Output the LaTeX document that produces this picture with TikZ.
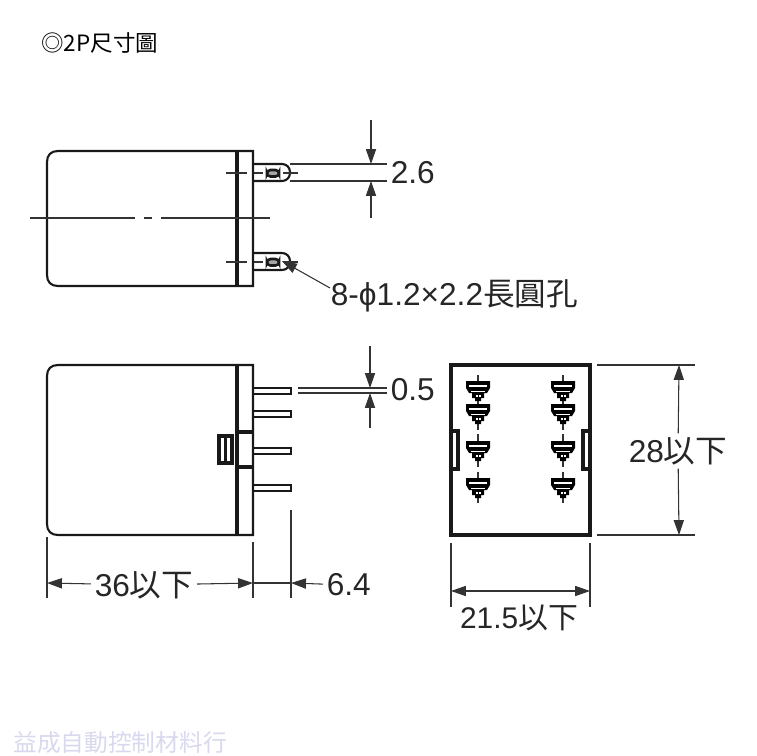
\documentclass[tikz,border=0pt]{standalone}
\usepackage{fontspec}
\setmainfont{Liberation Sans}
\newfontfamily\cjk{Noto Sans CJK TC}
\usetikzlibrary{arrows.meta}
\tikzset{
    outline/.style={line width=1.2pt,black!90},
    heavy/.style={line width=1.9pt,black!90},
    thinline/.style={line width=0.6pt,black!80},
    dimline/.style={thinline,>={Triangle[length=8.5pt,width=5.8pt]}},
    dimtext/.style={inner sep=2pt,font=\fontsize{18}{20}\selectfont,text=black!85},
    pics/terminal/.style={code={
        \fill[black] (-12,-8) -- (12,-8) -- (12,-1) -- (9,4) -- (6,4) -- (6,9) -- (3,9) -- (3,12) -- (-3,12) -- (-3,9) -- (-6,9) -- (-6,4) -- (-9,4) -- (-12,-1) -- cycle;
        \fill[white] (-9,-4.5) rectangle (9,-2.5);
        \fill[white] (-7,1.5) rectangle (7,3);
        \fill[white] (-2.5,6) rectangle (-0.5,7.5);
        \fill[white] (0.5,6) rectangle (2.5,7.5);
    }}
}
\begin{document}
\begin{tikzpicture}[x=0.02cm,y=-0.02cm]
    \useasboundingbox (0,0) rectangle (756,756);

    % title and watermark
    \node[anchor=west,inner sep=0pt,font=\cjk\fontsize{12.8}{15}\selectfont] (title) at (41,43) {◎2P尺寸圖};
    \node[anchor=west,inner sep=0pt,font=\cjk\fontsize{13.5}{15}\selectfont,text=blue!40!gray!22] (mark) at (13,743) {益成自動控制材料行};

    % top view
    \draw[outline] (253,151) -- (58,151) .. controls (51,151) and (47,155) .. (47,162) -- (47,275) .. controls (47,282) and (51,286) .. (58,286) -- (253,286) -- cycle;
    \draw[heavy] (237,151) -- (237,286);
    \draw[outline,rounded corners=4.5pt] (253,164) -- (290,164) -- (290,181) -- (253,181);
    \draw[outline,rounded corners=4.5pt] (253,253) -- (290,253) -- (290,270) -- (253,270);
    \draw[outline,line width=1.5pt,fill=black!35,rounded corners=2pt] (267,170) rectangle (279,176.5);
    \draw[outline,line width=1.5pt,fill=black!35,rounded corners=2pt] (267,259) rectangle (279,265.5);
    % centre lines
    \draw[thinline,line width=0.8pt] (30,218) -- (135,218) (144,218) -- (152,218) (161,218) -- (270,218);
    \draw[thinline] (226,173) -- (247,173) (254,173) -- (263,173) (283,173) -- (298,173);
    \draw[thinline] (226,262) -- (247,262) (254,262) -- (263,262) (283,262) -- (298,262);

    % 2.6
    \coordinate (a26top) at (371,120);
    \coordinate (a26up) at (371,164);
    \coordinate (a26low) at (371,181);
    \coordinate (a26bot) at (371,218);
    \node[dimtext,anchor=west] (t26) at (387,173) {2.6};
    \draw[thinline] (290,164) -- (387,164);
    \draw[thinline] (290,181) -- (387,181);
    \draw[dimline,->] (a26top) -- (a26up);
    \draw[dimline,->] (a26bot) -- (a26low);

    % hole leader
    \node[dimtext,anchor=west] (t8) at (327,296) {8-ϕ1.2×2.2{\cjk 長圓孔}};
    \coordinate (lead) at (330,288);
    \coordinate (hole) at (282,261);
    \draw[dimline,->] (lead) -- (hole);

    % side view
    \draw[outline] (253,365) -- (58,365) .. controls (51,365) and (47,369) .. (47,376) -- (47,524) .. controls (47,531) and (51,535) .. (58,535) -- (253,535) -- cycle;
    \draw[heavy] (237,365) -- (237,535);
    \draw[heavy] (237,432) -- (253,432);
    \draw[heavy] (237,467) -- (253,467);
    \draw[outline] (253,388) rectangle (291,394);
    \draw[outline] (253,411) rectangle (291,417);
    \draw[outline] (253,448) rectangle (291,454);
    \draw[outline] (253,485) rectangle (291,491);
    \draw[heavy,fill=white] (219,436) rectangle (232,463);
    \draw[outline] (225.5,436) -- (225.5,463);

    % 0.5
    \coordinate (a05top) at (370,346);
    \coordinate (a05up) at (370,388);
    \coordinate (a05low) at (370,393);
    \coordinate (a05bot) at (370,428);
    \node[dimtext,anchor=west] (t05) at (387,390) {0.5};
    \draw[thinline] (298,388) -- (387,388);
    \draw[thinline] (298,393) -- (387,393);
    \draw[dimline,->] (a05top) -- (a05up);
    \draw[dimline,->] (a05bot) -- (a05low);

    % 36 and 6.4
    \draw[thinline] (47,537) -- (47,598);
    \draw[thinline] (253,542) -- (253,598);
    \draw[thinline] (291,510) -- (291,598);
    \coordinate (d36l) at (47,583);
    \coordinate (d36r) at (253,583);
    \coordinate (d64) at (291,583);
    \node[dimtext] (t36) at (144,585) {36{\cjk 以下}};
    \node[dimtext,anchor=west] (t64) at (323,585) {6.4};
    \draw[dimline,->] (t36) -- (d36l);
    \draw[dimline,->] (t36) -- (d36r);
    \draw[dimline] (d36r) -- (d64);
    \draw[dimline,->] (t64) -- (d64);

    % rear view
    \draw[heavy] (451,365) rectangle (590,535);
    \draw[heavy,fill=white] (451,431) rectangle (458,469);
    \draw[heavy,fill=white] (583,431) rectangle (590,469);
    \draw[thinline] (478,375) -- (478,430) (478,434) -- (478,467) (478,472) -- (478,503);
    \draw[thinline] (563,375) -- (563,430) (563,434) -- (563,467) (563,472) -- (563,503);
    \pic at (478,389) {terminal};
    \pic at (478,412) {terminal};
    \pic at (478,449) {terminal};
    \pic at (478,486) {terminal};
    \pic at (563,389) {terminal};
    \pic at (563,412) {terminal};
    \pic at (563,449) {terminal};
    \pic at (563,486) {terminal};

    % 28
    \draw[thinline] (597,365) -- (695,365);
    \draw[thinline] (597,535) -- (695,535);
    \coordinate (d28top) at (679,365);
    \coordinate (d28bot) at (679,535);
    \node[dimtext] (t28) at (678,451) {28{\cjk 以下}};
    \draw[dimline,->] (t28) -- (d28top);
    \draw[dimline,->] (t28) -- (d28bot);

    % 21.5
    \draw[thinline] (451,543) -- (451,607);
    \draw[thinline] (590,543) -- (590,607);
    \coordinate (d215l) at (451,591);
    \coordinate (d215r) at (590,591);
    \node[dimtext,font=\fontsize{17}{20}\selectfont] (t215) at (519,618) {21.5{\cjk 以下}};
    \draw[dimline,<->] (d215l) -- (d215r);
\end{tikzpicture}
\end{document}
